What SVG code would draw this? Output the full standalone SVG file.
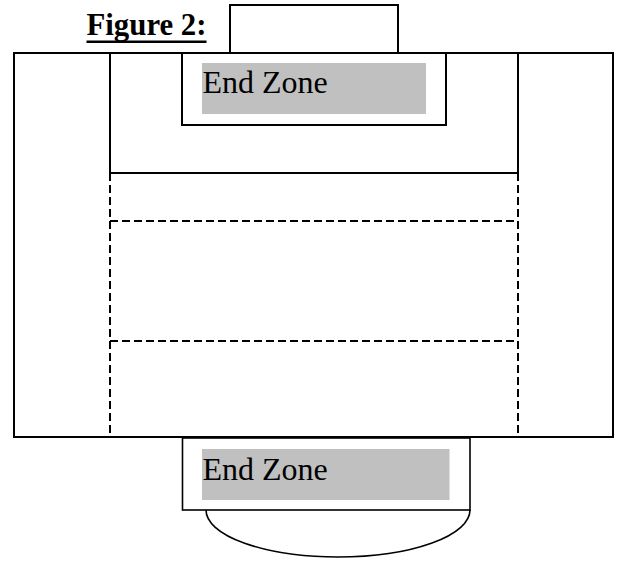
<svg xmlns="http://www.w3.org/2000/svg" width="621" height="562" viewBox="0 0 621 562">
<style>
.ln{fill:none;stroke:#000;stroke-width:2}
.dash{fill:none;stroke:#000;stroke-width:2;stroke-dasharray:8 4}
.box{fill:#fff;stroke:#000;stroke-width:2}
.thin{fill:#fff;stroke:#000;stroke-width:1.6}
.gray{fill:#c0c0c0}
.lbl{font-family:"Liberation Serif","Times New Roman",serif;font-size:32px;fill:#000}
</style>
<rect width="621" height="562" fill="#fff"/>
<g id="title">
<text x="86.5" y="34.5" font-family="Liberation Serif, Times New Roman, serif" font-weight="bold" font-size="31" textLength="120" lengthAdjust="spacingAndGlyphs">Figure 2:</text>
<rect x="86.5" y="40.5" width="120" height="2.5" fill="#000"/>
</g>
<g id="field">
<rect class="ln" x="14" y="53" width="599" height="384"/>
<path class="ln" d="M110,53V173M518,53V173M110,173H518"/>
<path class="dash" d="M110,173V437M518,173V437M110,221H518M110,341H518"/>
</g>
<g id="top-box">
<rect class="box" x="230" y="5" width="168" height="48"/>
</g>
<g id="top-endzone">
<rect class="box" x="182" y="53" width="264" height="72"/>
<rect class="gray" x="202" y="63" width="224" height="51"/>
<text class="lbl" x="202.5" y="92.7">End Zone</text>
</g>
<g id="bottom-endzone">
<path class="thin" d="M206,510 A132,47 0 0,0 470,510"/>
<rect class="thin" x="182.5" y="438" width="287.5" height="72"/>
<rect class="gray" x="202" y="449" width="247.5" height="51"/>
<text class="lbl" x="202.5" y="480">End Zone</text>
</g>
</svg>
